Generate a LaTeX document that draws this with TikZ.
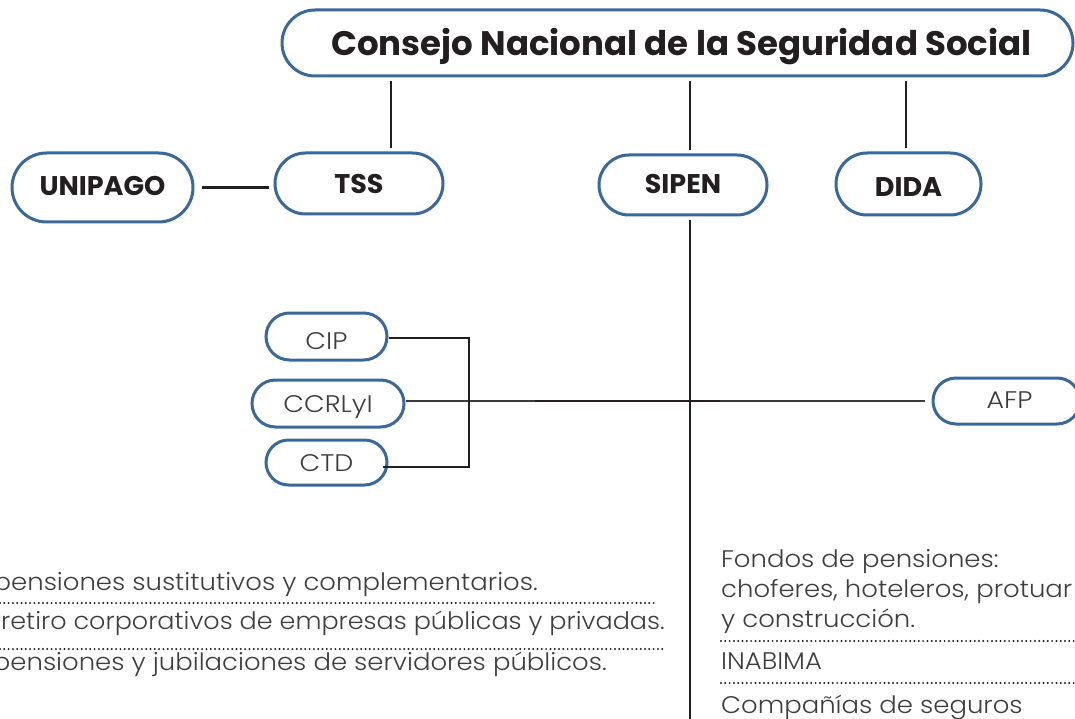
\documentclass[tikz,border=0pt]{standalone}
\usepackage{fontspec}
\setmainfont{Poppins}
\newfontfamily\lightfont{Poppins Light}[FakeStretch=1.08]
\newfontfamily\lightnarrow{Poppins Light}[FakeStretch=1.06]
\newfontfamily\lightlblfont{Poppins Light}[FakeStretch=1.12]
\usetikzlibrary{shapes.misc}
\definecolor{boxblue}{RGB}{58,104,153}
\definecolor{ink}{RGB}{35,31,32}
\definecolor{txt}{RGB}{62,62,62}
\definecolor{linegray}{RGB}{60,60,60}
\begin{document}
\begin{tikzpicture}[x=1pt,y=-1pt,
  pill/.style={rounded rectangle, draw=boxblue, line width=3pt, fill=white, inner sep=0pt, text=ink, text depth=0pt},
  boldlbl/.style={pill, font=\fontsize{27}{32}\selectfont\bfseries},
  lightlbl/.style={pill, font=\lightlblfont\fontsize{24}{28}\selectfont, text=txt},
  conn/.style={draw=ink, line width=2.4pt},
  thinconn/.style={draw=linegray, line width=2pt},
  dots/.style={draw=ink, line width=2.2pt, line cap=round, dash pattern=on 0pt off 4.3pt},
  body/.style={font=\lightfont\fontsize{24}{28}\selectfont, text=txt, inner sep=0pt}
]
\useasboundingbox (0,0) rectangle (1075,719);
\clip (0,0) rectangle (1075,719);
\node[pill, font=\fontsize{34}{40}\selectfont\bfseries, text height=25.7pt, minimum width=791pt, minimum height=66pt] (cnss) at (677.5,43) {\hspace*{8pt}Consejo Nacional de la Seguridad Social};
\node[boldlbl, text height=16pt, minimum width=181pt, minimum height=69pt] (unipago) at (102.5,187.5) {UNIPAGO};
\node[boldlbl, text height=20pt, minimum width=168pt, minimum height=61pt] (tss) at (359,183.5) {TSS};
\node[boldlbl, text height=17pt, minimum width=168pt, minimum height=60pt] (sipen) at (683,185) {SIPEN};
\node[boldlbl, text height=26pt, minimum width=145pt, minimum height=62pt] (dida) at (908.5,184) {DIDA};
\node[lightlbl, text height=25.8pt, minimum width=121pt, minimum height=47pt] (cip) at (326.5,336.5) {CIP};
\node[lightlbl, text height=18.8pt, minimum width=152pt, minimum height=47pt] (ccrlyi) at (328,403.5) {CCRLyI};
\node[lightlbl, text height=18.8pt, minimum width=121pt, minimum height=45pt] (ctd) at (326.5,462.5) {CTD};
\node[lightlbl, text height=14.8pt, minimum width=147pt, minimum height=46pt] (afp) at (1006.5,401) {\hspace*{6pt}AFP};
\coordinate (bot) at (690,725);
\coordinate (brk) at (469,338);
\coordinate (hl) at (535,401);
\coordinate (hr) at (720,401);
% connectors
\draw[conn, shorten <=4pt, shorten >=3pt] (391,0 |- cnss.south) -- (391,0 |- tss.north);
\draw[conn, shorten <=4pt, shorten >=3pt] (690,0 |- cnss.south) -- (690,0 |- sipen.north);
\draw[conn, shorten <=4pt, shorten >=3pt] (906,0 |- cnss.south) -- (906,0 |- dida.north);
\draw[conn, shorten <=7pt, shorten >=5pt] (unipago.east) -- (unipago.east -| tss.west);
\draw[conn, shorten <=4pt] (690,0 |- sipen.south) -- (bot);
\draw[thinconn, shorten <=0pt, shorten >=7pt] (ccrlyi.east |- hl) -- (afp.west |- hl);
\draw[conn] (hl) -- (hr);
\draw[conn] (cip.east |- brk) -- (brk) -- (brk |- 0,467) -- (383,467);
% lists
\node[body, anchor=base east] (l1) at (538,590) {pensiones sustitutivos y complementarios.};
\node[body, font=\lightnarrow\fontsize{24}{28}\selectfont, anchor=base west] (l2) at (1,629) {retiro corporativos de empresas públicas y privadas.};
\node[body, anchor=base east] (l3) at (607,670) {pensiones y jubilaciones de servidores públicos.};
\draw[dots] (0,603) -- (657,603);
\draw[dots] (0,649) -- (666,649);
\node[body, anchor=base west] (r1) at (721,567) {Fondos de pensiones:};
\node[body, anchor=base west] (r2) at (721,597) {choferes, hoteleros, protuar};
\node[body, anchor=base west] (r3) at (721,627) {y construcción.};
\node[body, anchor=base west] (r4) at (721,669) {INABIMA};
\node[body, anchor=base west] (r5) at (721,713) {Compañías de seguros};
\draw[dots] (721,641) -- (1075,641);
\draw[dots] (721,683) -- (1075,683);
\end{tikzpicture}
\end{document}
